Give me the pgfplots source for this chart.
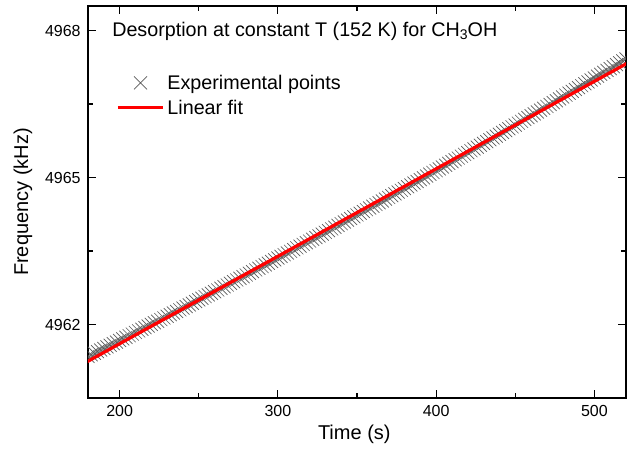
\documentclass[border=0pt]{standalone}
\usepackage{pgfplots}
\pgfplotsset{compat=1.18}
\usepackage{fontspec}
\setmainfont{Liberation Sans}
\definecolor{markgray}{HTML}{5A5A5A}
\pgfplotsset{
  legmarks/.style={legend image code/.code={\draw[mark repeat=2,mark phase=2,##1] plot coordinates {(0pt,0pt)(17pt,0pt)(34pt,0pt)};}},
  legline/.style={legend image code/.code={\draw[##1] (0pt,0pt) -- (34pt,0pt);}},
}
\begin{document}
\begin{tikzpicture}
\begin{axis}[
  scale only axis,
  width=403.5pt, height=294pt,
  at={(0,0)}, anchor=south west,
  xmin=180, xmax=520, ymin=4960.5, ymax=4968.5,
  xtick={200,300,400,500}, minor xtick={250,350,450},
  ytick={4962,4965,4968}, minor ytick={4963.5,4966.5},
  tick align=inside,
  major tick length=6pt, minor tick length=4pt,
  every tick/.style={black, line width=0.9pt},
  axis line style={line width=0.9pt},
  /pgf/number format/assume math mode=true,
  /pgf/number format/set thousands separator={},
  ticklabel style={font=\fontsize{12pt}{14pt}\selectfont},
  xticklabel style={yshift=-2pt},
  yticklabel style={xshift=-2pt},
  xlabel={Time (s)}, ylabel={Frequency (kHz)},
  every axis x label/.style={at={(axis description cs:0.495,0)}, anchor=center, yshift=-27pt, font=\fontsize{15pt}{17pt}\selectfont},
  every axis y label/.style={at={(axis description cs:-0.1208,0.5)}, rotate=90, anchor=center, font=\fontsize{15pt}{17pt}\selectfont},
  legend style={at={(axis description cs:0.052,0.832)}, anchor=north west, draw=none, fill=none,
    font=\fontsize{14.8pt}{17pt}\selectfont, row sep=2.5pt, inner sep=0pt,
    nodes={inner sep=2pt}},
  legend cell align=left,
  clip=true, clip marker paths=true,
]
\addplot[only marks, mark=x, mark size=6.9pt, color=markgray, mark options={line width=0.5pt}, legmarks]
table {
t f
176 4961.286
178 4961.318
180 4961.350
182 4961.382
184 4961.414
186 4961.447
188 4961.479
190 4961.511
192 4961.544
194 4961.576
196 4961.609
198 4961.641
200 4961.674
202 4961.706
204 4961.739
206 4961.772
208 4961.805
210 4961.837
212 4961.870
214 4961.903
216 4961.936
218 4961.969
220 4962.002
222 4962.035
224 4962.068
226 4962.101
228 4962.134
230 4962.167
232 4962.201
234 4962.234
236 4962.267
238 4962.300
240 4962.334
242 4962.367
244 4962.401
246 4962.434
248 4962.468
250 4962.501
252 4962.535
254 4962.569
256 4962.603
258 4962.636
260 4962.670
262 4962.704
264 4962.738
266 4962.772
268 4962.806
270 4962.840
272 4962.874
274 4962.908
276 4962.942
278 4962.976
280 4963.010
282 4963.045
284 4963.079
286 4963.113
288 4963.148
290 4963.182
292 4963.217
294 4963.251
296 4963.286
298 4963.320
300 4963.355
302 4963.390
304 4963.424
306 4963.459
308 4963.494
310 4963.529
312 4963.564
314 4963.599
316 4963.634
318 4963.669
320 4963.704
322 4963.739
324 4963.774
326 4963.809
328 4963.844
330 4963.880
332 4963.915
334 4963.950
336 4963.986
338 4964.021
340 4964.057
342 4964.092
344 4964.128
346 4964.163
348 4964.199
350 4964.235
352 4964.270
354 4964.306
356 4964.342
358 4964.378
360 4964.414
362 4964.449
364 4964.485
366 4964.521
368 4964.558
370 4964.594
372 4964.630
374 4964.666
376 4964.702
378 4964.738
380 4964.775
382 4964.811
384 4964.847
386 4964.884
388 4964.920
390 4964.957
392 4964.993
394 4965.030
396 4965.067
398 4965.103
400 4965.140
402 4965.177
404 4965.214
406 4965.250
408 4965.287
410 4965.324
412 4965.361
414 4965.398
416 4965.435
418 4965.472
420 4965.509
422 4965.547
424 4965.584
426 4965.621
428 4965.658
430 4965.696
432 4965.733
434 4965.771
436 4965.808
438 4965.846
440 4965.883
442 4965.921
444 4965.958
446 4965.996
448 4966.034
450 4966.071
452 4966.109
454 4966.147
456 4966.185
458 4966.223
460 4966.261
462 4966.299
464 4966.337
466 4966.375
468 4966.413
470 4966.451
472 4966.490
474 4966.528
476 4966.566
478 4966.604
480 4966.643
482 4966.681
484 4966.720
486 4966.758
488 4966.797
490 4966.835
492 4966.874
494 4966.913
496 4966.951
498 4966.990
500 4967.029
502 4967.068
504 4967.107
506 4967.145
508 4967.184
510 4967.223
512 4967.262
514 4967.302
516 4967.341
518 4967.380
520 4967.419
522 4967.458
524 4967.498
};
\addlegendentry{Experimental points}
\addplot[red, line width=2.4pt, no marks, legline]
coordinates {(176,4961.179) (524,4967.390)};
\addlegendentry{Linear fit}
\node[anchor=west, inner sep=0pt, font=\fontsize{14.8pt}{17pt}\selectfont] at (axis description cs:0.0446,0.934)
  {Desorption at constant T (152 K) for CH\raisebox{-0.2ex}{\fontsize{10.5pt}{10.5pt}\selectfont 3}OH};
\end{axis}
\path (-66pt,-38.25pt) rectangle (408pt,298.5pt);
\end{tikzpicture}
\end{document}
